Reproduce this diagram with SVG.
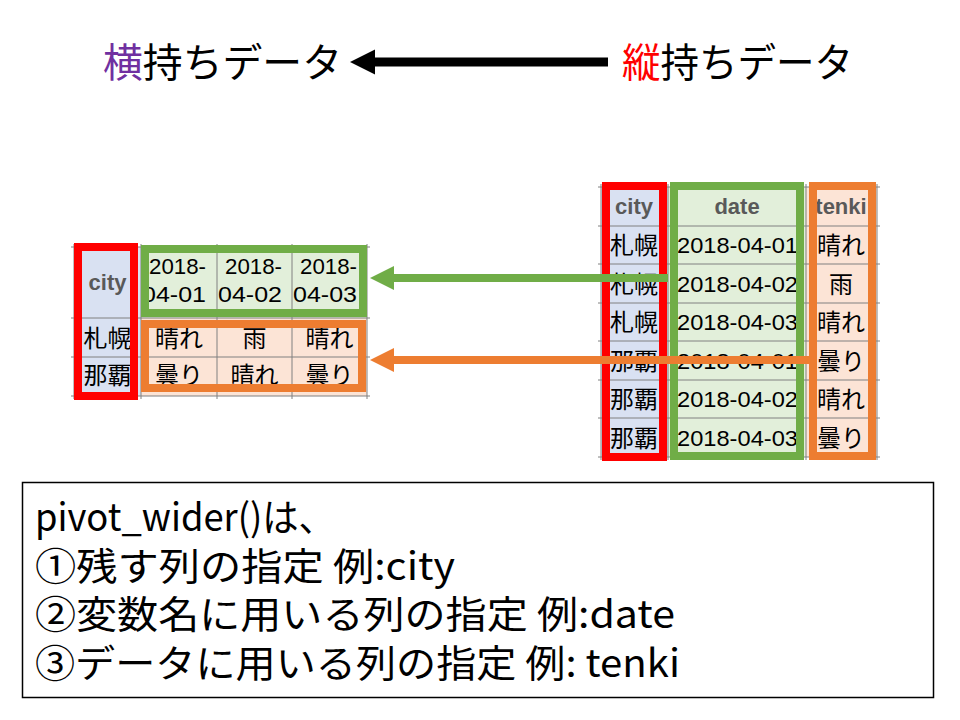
<svg xmlns="http://www.w3.org/2000/svg" width="960" height="720" viewBox="0 0 960 720">
<defs>
<style>
.cjk{font-family:"Noto Sans CJK JP","Liberation Sans",sans-serif;}
.num{font-family:"Liberation Sans","Noto Sans CJK JP",sans-serif;font-size:22px;fill:#000;}
.hdr{font-family:"Liberation Sans",sans-serif;font-weight:bold;font-size:22px;fill:#595959;}
.dat{font-family:"Noto Sans CJK JP",sans-serif;font-size:24px;fill:#000;}
.grid{stroke:#808080;stroke-width:1;fill:none;}
.blue{fill:#D9E1F2;}
.green{fill:#E2EFDA;}
.orange{fill:#FCE4D6;}
.bred{fill:none;stroke:#FF0000;stroke-width:8;}
.bgreen{fill:none;stroke:#70AD47;stroke-width:8;}
.borange{fill:none;stroke:#ED7D31;stroke-width:8;}
</style>
</defs>
<rect width="960" height="720" fill="#ffffff"/>

<!-- Title -->
<g id="title-wide">
<text class="cjk" x="103" y="77" font-size="40" textLength="239" lengthAdjust="spacingAndGlyphs"><tspan fill="#7030A0">横</tspan><tspan fill="#000">持ちデータ</tspan></text>
</g>
<g id="title-long">
<text class="cjk" x="622" y="77" font-size="40" textLength="231" lengthAdjust="spacingAndGlyphs"><tspan fill="#FF0000">縦</tspan><tspan fill="#000">持ちデータ</tspan></text>
</g>

<!-- Right (long) table -->
<g id="long-table">
<rect class="blue" x="601" y="187" width="67" height="270"/>
<rect class="green" x="668" y="187" width="138" height="270"/>
<rect class="orange" x="806" y="187" width="71" height="270"/>
<g class="grid">
<line x1="598" y1="187" x2="880" y2="187"/>
<line x1="598" y1="226" x2="880" y2="226"/>
<line x1="598" y1="264" x2="880" y2="264"/>
<line x1="598" y1="303" x2="880" y2="303"/>
<line x1="598" y1="341" x2="880" y2="341"/>
<line x1="598" y1="380" x2="880" y2="380"/>
<line x1="598" y1="418" x2="880" y2="418"/>
<line x1="598" y1="457" x2="880" y2="457"/>
<line x1="601" y1="184" x2="601" y2="460"/>
<line x1="668" y1="184" x2="668" y2="460"/>
<line x1="806" y1="184" x2="806" y2="460"/>
<line x1="877" y1="184" x2="877" y2="460"/>
</g>
<text class="hdr" x="634" y="214" text-anchor="middle">city</text>
<text class="hdr" x="737" y="214" text-anchor="middle">date</text>
<text class="hdr" x="841" y="214" text-anchor="middle">tenki</text>
<g class="dat" text-anchor="middle">
<text x="634" y="254">札幌</text>
<text x="634" y="292.5">札幌</text>
<text x="634" y="331">札幌</text>
<text x="634" y="369.5">那覇</text>
<text x="634" y="408">那覇</text>
<text x="634" y="446.5">那覇</text>
<text x="841" y="254">晴れ</text>
<text x="841" y="292.5">雨</text>
<text x="841" y="331">晴れ</text>
<text x="841" y="369.5">曇り</text>
<text x="841" y="408">晴れ</text>
<text x="841" y="446.5">曇り</text>
</g>
<g class="num">
<text x="677" y="253" textLength="121" lengthAdjust="spacingAndGlyphs">2018-04-01</text>
<text x="677" y="291.5" textLength="121" lengthAdjust="spacingAndGlyphs">2018-04-02</text>
<text x="677" y="330" textLength="121" lengthAdjust="spacingAndGlyphs">2018-04-03</text>
<text x="677" y="368.5" textLength="121" lengthAdjust="spacingAndGlyphs">2018-04-01</text>
<text x="677" y="407" textLength="121" lengthAdjust="spacingAndGlyphs">2018-04-02</text>
<text x="677" y="445.5" textLength="121" lengthAdjust="spacingAndGlyphs">2018-04-03</text>
</g>
</g>
<g id="long-city-box"><rect class="bred" x="606" y="186" width="57" height="271"/></g>
<g id="long-date-box"><rect class="bgreen" x="674" y="186" width="126" height="270"/></g>
<g id="long-tenki-box"><rect class="borange" x="813" y="186" width="59" height="270"/></g>

<!-- Left (wide) table -->
<g id="wide-table">
<rect class="blue" x="74" y="247" width="67" height="149"/>
<rect class="green" x="141" y="247" width="226" height="71"/>
<rect class="orange" x="141" y="318" width="226" height="78"/>
<g class="grid">
<line x1="71" y1="247" x2="370" y2="247"/>
<line x1="141" y1="318" x2="370" y2="318"/>
<line x1="71" y1="318" x2="141" y2="318"/>
<line x1="71" y1="357" x2="370" y2="357"/>
<line x1="71" y1="396" x2="370" y2="396"/>
<line x1="74" y1="244" x2="74" y2="399"/>
<line x1="141" y1="244" x2="141" y2="399"/>
<line x1="217" y1="244" x2="217" y2="399"/>
<line x1="292" y1="244" x2="292" y2="399"/>
<line x1="367" y1="244" x2="367" y2="399"/>
</g>
<text class="hdr" x="107.5" y="290" text-anchor="middle">city</text>
<g class="num">
<text x="149" y="274" textLength="57" lengthAdjust="spacingAndGlyphs">2018-</text>
<text x="142" y="302" textLength="64" lengthAdjust="spacingAndGlyphs">04-01</text>
<text x="225" y="274" textLength="57" lengthAdjust="spacingAndGlyphs">2018-</text>
<text x="218" y="302" textLength="64" lengthAdjust="spacingAndGlyphs">04-02</text>
<text x="300" y="274" textLength="57" lengthAdjust="spacingAndGlyphs">2018-</text>
<text x="293" y="302" textLength="64" lengthAdjust="spacingAndGlyphs">04-03</text>
</g>
<g class="dat" text-anchor="middle">
<text x="107.5" y="347">札幌</text>
<text x="107.5" y="384">那覇</text>
<text x="179" y="347">晴れ</text>
<text x="254.5" y="347">雨</text>
<text x="329.5" y="347">晴れ</text>
<text x="179" y="384">曇り</text>
<text x="254.5" y="384">晴れ</text>
<text x="329.5" y="384">曇り</text>
</g>
</g>
<g id="wide-city-box"><rect class="bred" x="78" y="247" width="56" height="149"/></g>
<g id="wide-date-box"><rect class="bgreen" x="145" y="249" width="218" height="64"/></g>
<g id="wide-value-box"><rect class="borange" x="145" y="324" width="217" height="64"/></g>

<!-- Connectors -->
<g id="connectors">
<line x1="608" y1="62" x2="370" y2="62" stroke="#000" stroke-width="9"/>
<polygon points="350,62 375,49.5 375,74.5" fill="#000"/>
<line x1="668" y1="278" x2="390" y2="278" stroke="#70AD47" stroke-width="8"/>
<polygon points="370,278 394,266 394,290" fill="#70AD47"/>
<line x1="812" y1="360" x2="390" y2="360" stroke="#ED7D31" stroke-width="8"/>
<polygon points="370,360 394,348 394,372" fill="#ED7D31"/>
</g>

<!-- Explanation box -->
<g id="note">
<rect x="22.5" y="482.5" width="911" height="215" fill="#fff" stroke="#000" stroke-width="1.5"/>
<g class="cjk" font-size="38" fill="#000">
<text x="35" y="531" textLength="300" lengthAdjust="spacingAndGlyphs">pivot_wider()は、</text>
<text x="35" y="580" textLength="420" lengthAdjust="spacingAndGlyphs">①残す列の指定 例:city</text>
<text x="35" y="628" textLength="640" lengthAdjust="spacingAndGlyphs">②変数名に用いる列の指定 例:date</text>
<text x="35" y="677" textLength="645" lengthAdjust="spacingAndGlyphs">③データに用いる列の指定 例: tenki</text>
</g>
</g>
</svg>
